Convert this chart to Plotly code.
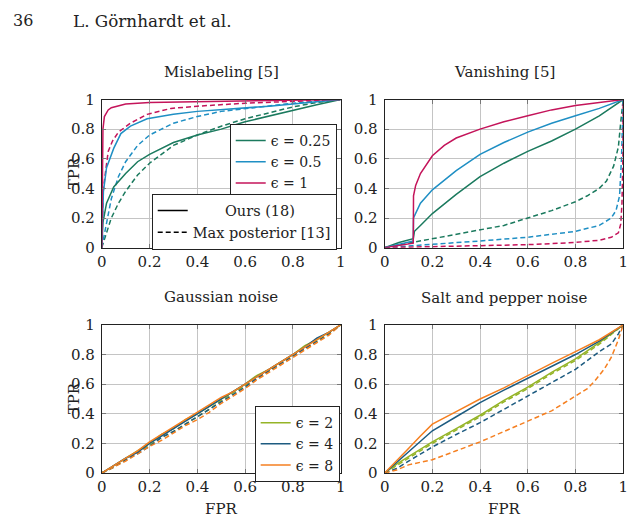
import plotly.graph_objects as go

# ---------------- data ----------------
# Mislabeling [5]
mis_fpr_s025 = [0, 0.005, 0.02, 0.05, 0.1, 0.15, 0.2, 0.3, 0.4, 0.5, 0.6, 0.7, 0.8, 0.9, 1.0]
mis_tpr_s025 = [0, 0.17, 0.3, 0.41, 0.5, 0.58, 0.63, 0.71, 0.76, 0.8, 0.85, 0.89, 0.93, 0.965, 1.0]
mis_fpr_d025 = [0, 0.01, 0.02, 0.04, 0.07, 0.1, 0.15, 0.2, 0.3, 0.4, 0.5, 0.6, 0.7, 0.8, 0.9, 1]
mis_tpr_d025 = [0, 0.05, 0.1, 0.2, 0.3, 0.38, 0.49, 0.57, 0.69, 0.76, 0.82, 0.87, 0.91, 0.95, 0.98, 1]
mis_fpr_s05 = [0, 0.003, 0.007, 0.02, 0.05, 0.08, 0.12, 0.19, 0.3, 0.4, 0.5, 0.6, 0.7, 0.8, 0.9, 1]
mis_tpr_s05 = [0, 0.25, 0.38, 0.54, 0.67, 0.77, 0.82, 0.87, 0.9, 0.92, 0.93, 0.94, 0.955, 0.97, 0.985, 1]
mis_fpr_d05 = [0, 0.01, 0.02, 0.04, 0.07, 0.1, 0.15, 0.2, 0.3, 0.4, 0.5, 0.6, 0.8, 1]
mis_tpr_d05 = [0, 0.08, 0.18, 0.33, 0.48, 0.58, 0.69, 0.76, 0.84, 0.885, 0.92, 0.94, 0.975, 1]
mis_fpr_s1 = [0, 0.002, 0.005, 0.011, 0.027, 0.04, 0.07, 0.1, 0.2, 0.4, 0.6, 0.8, 1]
mis_tpr_s1 = [0, 0.6, 0.8, 0.885, 0.93, 0.945, 0.96, 0.97, 0.98, 0.985, 0.99, 0.995, 1]
mis_fpr_d1 = [0, 0.003, 0.006, 0.014, 0.027, 0.045, 0.07, 0.12, 0.19, 0.29, 0.4, 0.6, 0.8, 1]
mis_tpr_d1 = [0, 0.25, 0.38, 0.49, 0.65, 0.72, 0.78, 0.84, 0.9, 0.94, 0.955, 0.975, 0.99, 1]

# Vanishing [5]
van_fpr_s025 = [0, 0.06, 0.12, 0.125, 0.15, 0.2, 0.3, 0.4, 0.5, 0.6, 0.7, 0.8, 0.9, 1]
van_tpr_s025 = [0, 0.035, 0.06, 0.11, 0.15, 0.23, 0.36, 0.48, 0.57, 0.65, 0.72, 0.8, 0.89, 1]
van_fpr_d025 = [0, 0.1, 0.2, 0.3, 0.4, 0.5, 0.6, 0.7, 0.8, 0.85, 0.9, 0.93, 0.96, 0.98, 0.99, 1]
van_tpr_d025 = [0, 0.03, 0.06, 0.09, 0.12, 0.15, 0.2, 0.25, 0.31, 0.35, 0.4, 0.45, 0.55, 0.68, 0.85, 1]
van_fpr_s05 = [0, 0.06, 0.12, 0.121, 0.15, 0.2, 0.3, 0.4, 0.5, 0.6, 0.7, 0.8, 0.9, 1]
van_tpr_s05 = [0, 0.025, 0.045, 0.2, 0.3, 0.39, 0.52, 0.63, 0.71, 0.78, 0.84, 0.89, 0.94, 1]
van_fpr_d05 = [0, 0.1, 0.2, 0.4, 0.6, 0.8, 0.9, 0.95, 0.97, 0.985, 0.993, 0.997, 1]
van_tpr_d05 = [0, 0.01, 0.02, 0.045, 0.07, 0.11, 0.15, 0.2, 0.25, 0.35, 0.6, 0.85, 1]
van_fpr_s1 = [0, 0.06, 0.12, 0.121, 0.13, 0.15, 0.2, 0.25, 0.3, 0.4, 0.5, 0.6, 0.7, 0.8, 0.9, 1]
van_tpr_s1 = [0, 0.015, 0.03, 0.35, 0.42, 0.5, 0.62, 0.69, 0.74, 0.8, 0.85, 0.89, 0.93, 0.96, 0.98, 1]
van_fpr_d1 = [0, 0.2, 0.4, 0.6, 0.8, 0.9, 0.95, 0.98, 0.99, 0.995, 0.999, 1]
van_tpr_d1 = [0, 0.005, 0.01, 0.02, 0.035, 0.05, 0.07, 0.1, 0.16, 0.3, 0.6, 1]

# Gaussian noise
gau_fpr = [0, 0.05, 0.1, 0.15, 0.2, 0.25, 0.3, 0.35, 0.4, 0.45, 0.5, 0.55, 0.6, 0.65, 0.7, 0.75, 0.8, 0.85, 0.9, 0.95, 1]
gau_tpr_s2 = [0, 0.05, 0.1, 0.15, 0.2, 0.26, 0.3, 0.36, 0.4, 0.45, 0.5, 0.55, 0.6, 0.66, 0.7, 0.75, 0.8, 0.86, 0.9, 0.95, 1]
gau_tpr_s4 = [0, 0.05, 0.1, 0.14, 0.2, 0.25, 0.3, 0.35, 0.4, 0.45, 0.5, 0.55, 0.6, 0.65, 0.7, 0.75, 0.8, 0.85, 0.91, 0.95, 1]
gau_tpr_s8 = [0, 0.05, 0.1, 0.15, 0.21, 0.26, 0.31, 0.36, 0.41, 0.46, 0.51, 0.55, 0.6, 0.65, 0.7, 0.75, 0.8, 0.85, 0.9, 0.95, 1]
gau_tpr_d2 = [0, 0.04, 0.09, 0.14, 0.19, 0.24, 0.28, 0.33, 0.38, 0.43, 0.49, 0.54, 0.59, 0.64, 0.69, 0.74, 0.79, 0.84, 0.89, 0.94, 1]
gau_tpr_d4 = [0, 0.04, 0.09, 0.13, 0.18, 0.24, 0.28, 0.33, 0.38, 0.43, 0.48, 0.53, 0.58, 0.64, 0.69, 0.74, 0.79, 0.84, 0.89, 0.94, 1]
gau_tpr_d8 = [0, 0.04, 0.08, 0.13, 0.18, 0.22, 0.27, 0.32, 0.36, 0.41, 0.47, 0.52, 0.57, 0.63, 0.68, 0.73, 0.78, 0.83, 0.88, 0.93, 1]

# Salt and pepper noise
sp_fpr = [0, 0.05, 0.1, 0.15, 0.2, 0.3, 0.4, 0.5, 0.6, 0.7, 0.8, 0.9, 1]
sp_tpr_s2 = [0, 0.06, 0.11, 0.16, 0.21, 0.3, 0.39, 0.49, 0.58, 0.68, 0.77, 0.88, 1]
sp_tpr_s4 = [0, 0.07, 0.14, 0.21, 0.285, 0.38, 0.475, 0.56, 0.64, 0.72, 0.8, 0.89, 1]
sp_tpr_s8 = [0, 0.08, 0.165, 0.25, 0.33, 0.415, 0.5, 0.575, 0.66, 0.74, 0.82, 0.9, 1]
sp_fpr_d2 = [0, 0.05, 0.1, 0.15, 0.2, 0.3, 0.4, 0.5, 0.6, 0.7, 0.8, 0.9, 1]
sp_tpr_d2 = [0, 0.05, 0.1, 0.15, 0.2, 0.29, 0.38, 0.48, 0.57, 0.67, 0.76, 0.87, 1]
sp_fpr_d4 = [0, 0.05, 0.1, 0.2, 0.3, 0.4, 0.5, 0.6, 0.7, 0.8, 0.9, 0.95, 0.98, 1]
sp_tpr_d4 = [0, 0.03, 0.08, 0.176, 0.26, 0.34, 0.43, 0.52, 0.61, 0.7, 0.82, 0.87, 0.94, 1]
sp_fpr_d8 = [0, 0.05, 0.1, 0.2, 0.3, 0.4, 0.5, 0.6, 0.7, 0.8, 0.85, 0.88, 0.92, 0.95, 0.98, 1]
sp_tpr_d8 = [0, 0.02, 0.055, 0.09, 0.15, 0.21, 0.28, 0.35, 0.42, 0.52, 0.57, 0.62, 0.7, 0.78, 0.9, 1]

tick_vals = [0, 0.2, 0.4, 0.6, 0.8, 1]
tick_text = ["0", "0.2", "0.4", "0.6", "0.8", "1"]

# ---------------- style ----------------
FONT = "DejaVu Serif"
C025, C05, C1 = "#1b7a5e", "#1f8fc4", "#c4145a"
C2, C4, C8 = "#95b427", "#1d5b80", "#f57f20"
DASH = "5px,3px"
LW = 1.5

fig = go.Figure()


def add(x, y, color, dash, xa, ya, name=None, legend=None):
    fig.add_trace(go.Scatter(
        x=x, y=y, mode="lines", xaxis=xa, yaxis=ya,
        line=dict(color=color, width=LW, dash=dash),
        name=name or "", showlegend=legend is not None,
        legend=legend or "legend", hoverinfo="skip"))


# Panel 1 (dashed first so solid on top)
add(mis_fpr_d025, mis_tpr_d025, C025, DASH, "x", "y")
add(mis_fpr_d05, mis_tpr_d05, C05, DASH, "x", "y")
add(mis_fpr_d1, mis_tpr_d1, C1, DASH, "x", "y")
add(mis_fpr_s025, mis_tpr_s025, C025, "solid", "x", "y", "ϵ = 0.25", "legend")
add(mis_fpr_s05, mis_tpr_s05, C05, "solid", "x", "y", "ϵ = 0.5", "legend")
add(mis_fpr_s1, mis_tpr_s1, C1, "solid", "x", "y", "ϵ = 1", "legend")
add([None], [None], "black", "solid", "x", "y", "\u00a0\u00a0\u00a0\u00a0\u00a0\u00a0\u00a0Ours (18)", "legend2")
add([None], [None], "black", DASH, "x", "y", "Max posterior [13]", "legend2")

# Panel 2
add(van_fpr_d025, van_tpr_d025, C025, DASH, "x2", "y2")
add(van_fpr_d05, van_tpr_d05, C05, DASH, "x2", "y2")
add(van_fpr_d1, van_tpr_d1, C1, DASH, "x2", "y2")
add(van_fpr_s025, van_tpr_s025, C025, "solid", "x2", "y2")
add(van_fpr_s05, van_tpr_s05, C05, "solid", "x2", "y2")
add(van_fpr_s1, van_tpr_s1, C1, "solid", "x2", "y2")

# Panel 3
add(gau_fpr, gau_tpr_d2, C2, DASH, "x3", "y3")
add(gau_fpr, gau_tpr_d4, C4, DASH, "x3", "y3")
add(gau_fpr, gau_tpr_d8, C8, DASH, "x3", "y3")
add(gau_fpr, gau_tpr_s2, C2, "solid", "x3", "y3", "ϵ = 2", "legend3")
add(gau_fpr, gau_tpr_s4, C4, "solid", "x3", "y3", "ϵ = 4", "legend3")
add(gau_fpr, gau_tpr_s8, C8, "solid", "x3", "y3", "ϵ = 8", "legend3")

# Panel 4
add(sp_fpr_d2, sp_tpr_d2, C2, DASH, "x4", "y4")
add(sp_fpr_d4, sp_tpr_d4, C4, DASH, "x4", "y4")
add(sp_fpr_d8, sp_tpr_d8, C8, DASH, "x4", "y4")
add(sp_fpr, sp_tpr_s2, C2, "solid", "x4", "y4")
add(sp_fpr, sp_tpr_s4, C4, "solid", "x4", "y4")
add(sp_fpr, sp_tpr_s8, C8, "solid", "x4", "y4")

W, H = 638, 531


def px_x(p):
    return p / W


def px_y(p):
    return 1 - p / H


def axis(domain, anchor, standoff):
    return dict(domain=domain, anchor=anchor, range=[0, 1],
                tickvals=tick_vals, ticktext=tick_text,
                showline=True, mirror="allticks", linecolor="#222", linewidth=1,
                showgrid=True, gridcolor="#c4c4c4", gridwidth=1,
                ticks="inside", ticklen=4, tickcolor="#777", tickwidth=1,
                ticklabelstandoff=standoff,
                zeroline=False, fixedrange=True,
                tickfont=dict(family=FONT, size=15, color="#222"))


xl = [px_x(98.3), px_x(341)]
xr = [px_x(385.7), px_x(628)]
yt = [px_y(247), px_y(93.7)]
yb = [px_y(480.3), px_y(327)]

legend_common = dict(bgcolor="white", bordercolor="#222", borderwidth=1,
                     xref="paper", yref="paper", xanchor="right", yanchor="top",
                     tracegroupgap=0, itemwidth=30)

fig.update_layout(
    width=W, height=H, margin=dict(l=0, r=0, t=0, b=0),
    paper_bgcolor="white", plot_bgcolor="white",
    xaxis=axis(xl, "y", 0), yaxis=axis(yt, "x", 3),
    xaxis2=axis(xr, "y2", 0), yaxis2=axis(yt, "x2", 3),
    xaxis3=axis(xl, "y3", 0), yaxis3=axis(yb, "x3", 3),
    xaxis4=axis(xr, "y4", 0), yaxis4=axis(yb, "x4", 3),
    legend=dict(x=px_x(337), y=px_y(119), font=dict(family=FONT, size=14, color="#222"), **legend_common),
    legend2=dict(x=px_x(337), y=px_y(191), font=dict(family=FONT, size=14.5, color="#222"), **legend_common),
    legend3=dict(x=px_x(340), y=px_y(411), font=dict(family=FONT, size=14, color="#222"), **legend_common),
    font=dict(family=FONT, size=15, color="#222"),
)

ann = []


def text(x, y, s, angle=0, size=15):
    ann.append(dict(x=px_x(x), y=px_y(y), xref="paper", yref="paper", text=s,
                    showarrow=False, textangle=angle, xanchor="center", yanchor="middle",
                    font=dict(family=FONT, size=size, color="#222")))


text(18, 12, "36", size=16)
text(150, 12, "L. Görnhardt et al.", size=16.8)
text(219.5, 65, "Mislabeling [5]")
text(507, 65, "Vanishing [5]")
text(219.5, 298, "Gaussian noise")
text(507, 299, "Salt and pepper noise")
text(70, 170, "TPR", angle=-90)
text(70, 403, "TPR", angle=-90)
text(219.5, 518, "FPR")
text(507, 518, "FPR")
fig.update_layout(annotations=ann)

fig.write_html("out.html")
